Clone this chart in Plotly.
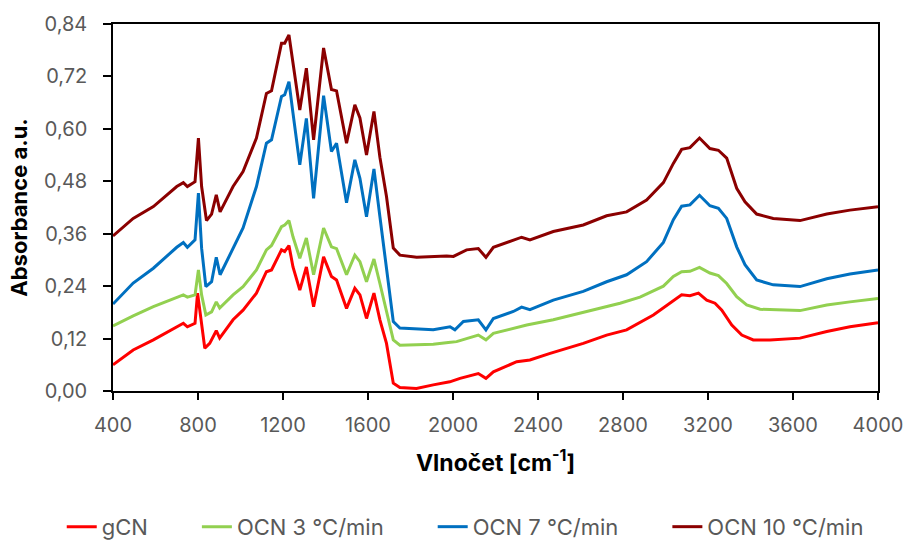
import plotly.graph_objects as go

# ---- data ----
gcn_x = [400, 495, 590, 700, 731, 750, 786, 798, 809, 832, 855, 886, 902, 965, 1012, 1075, 1122, 1146,
         1193, 1208, 1228, 1247, 1279, 1310, 1344, 1391, 1428, 1452, 1499, 1538, 1562, 1593, 1628, 1656,
         1687, 1719, 1750, 1828, 1907, 1985, 2033, 2119, 2155, 2190, 2300, 2362, 2457, 2613, 2723, 2817,
         2943, 3021, 3076, 3115, 3155, 3194, 3233, 3265, 3312, 3359, 3413, 3492, 3633, 3759, 3868, 4000]
gcn_y = [0.060, 0.094, 0.117, 0.147, 0.155, 0.147, 0.155, 0.224, 0.185, 0.098, 0.109, 0.138, 0.121,
         0.163, 0.185, 0.224, 0.273, 0.277, 0.323, 0.319, 0.333, 0.284, 0.231, 0.284, 0.193, 0.307,
         0.262, 0.254, 0.189, 0.235, 0.220, 0.166, 0.224, 0.163, 0.109, 0.018, 0.008, 0.006, 0.014,
         0.021, 0.029, 0.040, 0.029, 0.044, 0.067, 0.071, 0.086, 0.109, 0.128, 0.140, 0.174, 0.201,
         0.220, 0.218, 0.224, 0.208, 0.201, 0.185, 0.151, 0.128, 0.117, 0.117, 0.121, 0.136, 0.147, 0.156]

ocn3_x = [400, 495, 590, 700, 731, 750, 786, 802, 817, 837, 864, 886, 902, 965, 1012, 1075, 1122, 1146,
          1193, 1208, 1228, 1247, 1279, 1310, 1344, 1391, 1428, 1452, 1499, 1538, 1562, 1593, 1628, 1656,
          1687, 1719, 1750, 1907, 1978, 2017, 2119, 2155, 2190, 2347, 2472, 2629, 2786, 2880, 2990, 3037,
          3076, 3115, 3160, 3209, 3249, 3288, 3335, 3382, 3445, 3633, 3759, 3868, 4000]
ocn3_y = [0.149, 0.172, 0.193, 0.215, 0.220, 0.215, 0.220, 0.277, 0.220, 0.174, 0.181, 0.204, 0.190,
          0.220, 0.239, 0.277, 0.323, 0.333, 0.376, 0.380, 0.390, 0.353, 0.304, 0.350, 0.266, 0.373,
          0.330, 0.326, 0.266, 0.311, 0.296, 0.250, 0.302, 0.246, 0.185, 0.117, 0.105, 0.107, 0.111,
          0.113, 0.128, 0.117, 0.132, 0.151, 0.163, 0.182, 0.201, 0.215, 0.240, 0.262, 0.273, 0.274,
          0.283, 0.270, 0.264, 0.246, 0.216, 0.197, 0.187, 0.184, 0.197, 0.204, 0.212]

ocn7_x = [400, 495, 590, 700, 731, 750, 786, 802, 817, 837, 864, 886, 904, 965, 1012, 1075, 1122, 1146,
          1193, 1208, 1228, 1247, 1279, 1310, 1344, 1391, 1428, 1452, 1499, 1538, 1562, 1593, 1628, 1656,
          1687, 1719, 1750, 1907, 1986, 2009, 2049, 2119, 2155, 2190, 2284, 2323, 2362, 2472, 2613, 2723,
          2817, 2911, 2990, 3037, 3076, 3115, 3160, 3209, 3249, 3288, 3335, 3374, 3429, 3507, 3633, 3759,
          3868, 4000]
ocn7_y = [0.199, 0.247, 0.281, 0.329, 0.340, 0.329, 0.346, 0.453, 0.327, 0.239, 0.250, 0.306, 0.266,
          0.327, 0.373, 0.468, 0.567, 0.575, 0.674, 0.678, 0.708, 0.636, 0.518, 0.624, 0.441, 0.676,
          0.548, 0.567, 0.431, 0.529, 0.487, 0.399, 0.508, 0.399, 0.277, 0.159, 0.144, 0.140, 0.147,
          0.140, 0.159, 0.163, 0.140, 0.166, 0.182, 0.192, 0.186, 0.208, 0.228, 0.250, 0.266, 0.296,
          0.340, 0.392, 0.423, 0.426, 0.448, 0.424, 0.418, 0.395, 0.330, 0.289, 0.254, 0.243, 0.239,
          0.257, 0.268, 0.277]

ocn10_x = [400, 495, 590, 700, 731, 750, 786, 802, 817, 840, 864, 886, 904, 965, 1012, 1075, 1122, 1146,
           1193, 1208, 1228, 1247, 1279, 1310, 1344, 1391, 1428, 1452, 1499, 1538, 1562, 1593, 1628, 1656,
           1687, 1719, 1750, 1829, 1907, 1970, 2002, 2064, 2119, 2155, 2190, 2284, 2323, 2362, 2472, 2613,
           2723, 2817, 2911, 2990, 3037, 3076, 3115, 3160, 3209, 3249, 3288, 3335, 3374, 3429, 3507, 3633,
           3759, 3868, 4000]
ocn10_y = [0.355, 0.395, 0.422, 0.468, 0.477, 0.468, 0.479, 0.579, 0.468, 0.390, 0.405, 0.449, 0.410,
           0.468, 0.502, 0.579, 0.681, 0.687, 0.796, 0.796, 0.815, 0.750, 0.643, 0.739, 0.575, 0.785,
           0.690, 0.687, 0.567, 0.655, 0.625, 0.540, 0.640, 0.535, 0.445, 0.327, 0.311, 0.306, 0.308,
           0.309, 0.308, 0.323, 0.326, 0.306, 0.329, 0.346, 0.352, 0.346, 0.365, 0.380, 0.401, 0.410,
           0.437, 0.477, 0.521, 0.553, 0.557, 0.579, 0.555, 0.551, 0.533, 0.464, 0.433, 0.405, 0.395,
           0.390, 0.405, 0.414, 0.422]

series_names = ["gCN", "OCN 3 °C/min", "OCN 7 °C/min", "OCN 10 °C/min"]
series_colors = ["#FF0000", "#92D050", "#0070C0", "#8B0000"]
x_ticks = [400, 800, 1200, 1600, 2000, 2400, 2800, 3200, 3600, 4000]
y_ticks = [0.00, 0.12, 0.24, 0.36, 0.48, 0.60, 0.72, 0.84]

FONT = "Inter, Roboto, sans-serif"
PAD = "\u2003\u2003"  # extra spacing between legend entries

fig = go.Figure()
data = list(zip(series_names, series_colors,
                [gcn_x, ocn3_x, ocn7_x, ocn10_x],
                [gcn_y, ocn3_y, ocn7_y, ocn10_y]))
for i, (name, color, xs, ys) in enumerate(data):
    label = name + (PAD if i < len(data) - 1 else "")
    fig.add_trace(go.Scatter(x=xs, y=ys, mode="lines", name=label,
                             line=dict(color=color, width=3)))

fig.update_layout(
    width=904, height=542,
    margin=dict(l=113, r=26, t=24, b=151, autoexpand=False),
    paper_bgcolor="white", plot_bgcolor="white",
    separators=", ",
    font=dict(family=FONT, color="#595959", size=20),
    showlegend=True,
    legend=dict(orientation="h", x=-0.067, xanchor="left", y=-0.313, yanchor="top",
                font=dict(family=FONT, size=22, color="#595959"),
                traceorder="normal", itemwidth=30),
)
fig.update_xaxes(
    range=[400, 4000], tickvals=x_ticks, tickformat="d", automargin=False,
    showgrid=False, zeroline=False,
    showline=True, linecolor="black", linewidth=1.5, mirror=True,
    ticks="outside", ticklen=7, tickcolor="black", tickwidth=1.5,
    ticklabelstandoff=8,
    tickfont=dict(family=FONT, size=20, color="#595959"),
    title=dict(text="<b>Vlnočet [cm<sup>-1</sup>]</b>", standoff=19,
               font=dict(family=FONT, size=23, color="black")),
)
fig.update_yaxes(
    range=[0, 0.84], tickvals=y_ticks, tickformat=".2f", automargin=False,
    showgrid=False, zeroline=False,
    showline=True, linecolor="black", linewidth=1.5, mirror=True,
    ticks="outside", ticklen=8, tickcolor="black", tickwidth=1.5,
    ticklabelstandoff=12,
    tickfont=dict(family=FONT, size=20, color="#595959"),
    title=dict(text="<b>Absorbance a.u.</b>", standoff=10,
               font=dict(family=FONT, size=22, color="black")),
)

fig.write_html("out.html")
